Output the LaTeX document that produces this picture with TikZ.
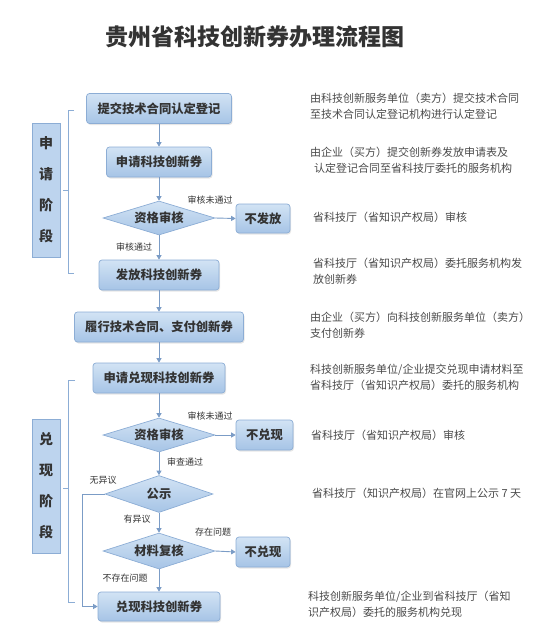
\documentclass[tikz,border=0pt]{standalone}
\usepackage{fontspec}
\setmainfont{Noto Sans CJK SC}
\usetikzlibrary{shapes.geometric,arrows.meta,shadows}
\definecolor{boxtop}{HTML}{D2E3F4}
\definecolor{boxbot}{HTML}{A6C4E6}
\definecolor{boxline}{HTML}{8CADD5}
\definecolor{arrowc}{HTML}{7B9CC6}
\definecolor{txtc}{HTML}{333333}
\definecolor{desc}{HTML}{4A4A4A}
\definecolor{stagefill}{HTML}{BDD4EE}
\tikzset{
  pbox/.style={rectangle, rounded corners=3pt, top color=boxtop, bottom color=boxbot,
    draw=boxline, line width=0.7pt, font=\fontsize{12.3}{14}\selectfont\bfseries, text=txtc,
    inner sep=0pt, drop shadow={shadow xshift=1pt, shadow yshift=-1.5pt, opacity=0.2}},
  pdia/.style={diamond, aspect=3.3, top color=boxtop, bottom color=boxbot, draw=boxline, line width=0.7pt,
    font=\fontsize{12.3}{14}\selectfont\bfseries, text=txtc, inner sep=0pt},
  stage/.style={rectangle, fill=stagefill, draw=boxline, line width=0.7pt, minimum width=28pt,
    minimum height=134pt, font=\fontsize{14}{31}\selectfont\bfseries, text=txtc, align=center, inner sep=0pt},
  flow/.style={draw=arrowc, line width=0.9pt, -{Triangle[width=5pt,length=4.5pt]}},
  brk/.style={draw=boxline, line width=0.8pt},
  lbl/.style={font=\fontsize{9}{10}\selectfont, text=txtc, inner sep=0pt},
  desctext/.style={font=\fontsize{11}{16}\selectfont, text=desc, align=left, anchor=west, inner sep=0pt},
}
\begin{document}
\begin{tikzpicture}[x=1pt,y=-1pt]
\useasboundingbox (0,0) rectangle (553,640);
% title
\node[font=\fontsize{23}{25}\selectfont\bfseries, text=txtc] (title) at (255,37) {贵州省科技创新券办理流程图};
% main flow
\node[pbox, minimum width=145pt, minimum height=30pt] (b1) at (159,108.5) {提交技术合同认定登记};
\node[pbox, minimum width=105pt, minimum height=30pt] (b2) at (159,162) {申请科技创新券};
\node[pdia, minimum width=112pt, minimum height=34pt] (d1) at (159,218) {资格审核};
\node[pbox, minimum width=54pt, minimum height=29pt] (n1) at (263,218.5) {不发放};
\node[pbox, minimum width=120pt, minimum height=30pt] (b3) at (159,275) {发放科技创新券};
\node[pbox, minimum width=169pt, minimum height=30pt] (b4) at (159,327) {履行技术合同、支付创新券};
\node[pbox, minimum width=132pt, minimum height=30pt] (b5) at (159,378) {申请兑现科技创新券};
\node[pdia, minimum width=112pt, minimum height=34pt] (d2) at (159,435) {资格审核};
\node[pbox, minimum width=57pt, minimum height=30pt] (n2) at (264.5,435) {不兑现};
\node[pdia, minimum width=108pt, minimum height=37pt] (d3) at (159,494) {公示};
\node[pdia, minimum width=112pt, minimum height=36pt] (d4) at (159,551) {材料复核};
\node[pbox, minimum width=54pt, minimum height=30pt] (n3) at (263,552) {不兑现};
\node[pbox, minimum width=122pt, minimum height=29pt] (b6) at (159,606.5) {兑现科技创新券};
% arrows
\draw[flow] (b1) -- (b2);
\draw[flow] (b2) -- (d1);
\draw[flow] (d1.east) -- (n1.west);
\draw[flow] (d1.south) -- (b3.north);
\draw[flow] (b3) -- (b4);
\draw[flow] (b4) -- (b5);
\draw[flow] (b5) -- (d2.north);
\draw[flow] (d2.east) -- (n2.west);
\draw[flow] (d2.south) -- (d3.north);
\draw[flow] (d3.south) -- (d4.north);
\draw[flow] (d4.east) -- (n3.west);
\draw[flow] (d4.south) -- (b6.north);
\coordinate (lp) at (82,494);
\draw[flow] (d3.west) -- (lp) |- (b6.west);
% labels
\node[lbl] (l1) at (210,200) {审核未通过};
\node[lbl] (l2) at (134,247) {审核通过};
\node[lbl] (l3) at (210,416) {审核未通过};
\node[lbl] (l4) at (185,462) {审查通过};
\node[lbl] (l5) at (103,480) {无异议};
\node[lbl] (l6) at (137,519) {有异议};
\node[lbl] (l7) at (213,532) {存在问题};
\node[lbl] (l8) at (125,578) {不存在问题};
% stages
\node[stage] (s1) at (46,190) {申\\请\\阶\\段};
\node[stage] (s2) at (46,486) {兑\\现\\阶\\段};
% brackets
\coordinate (k1a) at (74,110); \coordinate (k1b) at (68,110); \coordinate (k1c) at (68,273); \coordinate (k1d) at (74,273);
\coordinate (k1m) at (68,190); \coordinate (k1n) at (63,190);
\draw[brk] (k1a) -- (k1b) -- (k1c) -- (k1d);
\draw[brk] (k1m) -- (k1n);
\coordinate (k2a) at (75,380); \coordinate (k2b) at (68,380); \coordinate (k2c) at (68,602); \coordinate (k2d) at (75,602);
\coordinate (k2m) at (68,488); \coordinate (k2n) at (63,488);
\draw[brk] (k2a) -- (k2b) -- (k2c) -- (k2d);
\draw[brk] (k2m) -- (k2n);
% descriptions
\node[desctext] (t1) at (310,106) {由科技创新服务单位（卖方）提交技术合同\\至技术合同认定登记机构进行认定登记};
\node[desctext] (t2) at (310,160) {由企业（买方）提交创新券发放申请表及\\\hspace*{4pt}认定登记合同至省科技厅委托的服务机构};
\node[desctext] (t3) at (313,217) {省科技厅（省知识产权局）审核};
\node[desctext] (t4) at (313,271) {省科技厅（省知识产权局）委托服务机构发\\放创新券};
\node[desctext] (t5) at (310,325) {由企业（买方）向科技创新服务单位（卖方）\\支付创新券};
\node[desctext] (t6) at (310,377) {科技创新服务单位/企业提交兑现申请材料至\\省科技厅（省知识产权局）委托的服务机构};
\node[desctext] (t7) at (311,435) {省科技厅（省知识产权局）审核};
\node[desctext] (t8) at (312,493) {省科技厅（知识产权局）在官网上公示 7 天};
\node[desctext] (t9) at (308,604) {科技创新服务单位/企业到省科技厅（省知\\识产权局）委托的服务机构兑现};
\end{tikzpicture}
\end{document}
